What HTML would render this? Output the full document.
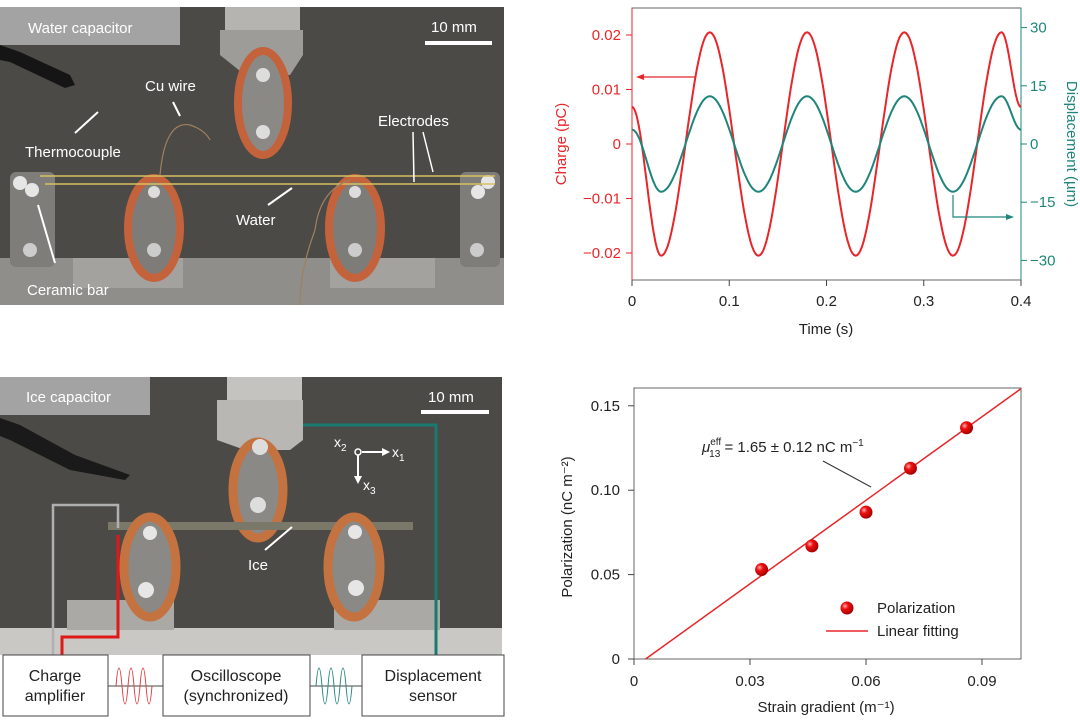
<!DOCTYPE html>
<html><head><meta charset="utf-8"><style>
body{margin:0;background:#fff;width:1080px;height:720px;overflow:hidden;font-family:"Liberation Sans",sans-serif}
svg text{font-family:"Liberation Sans",sans-serif}
</style></head><body>
<svg id="fig" width="1080" height="720" xmlns="http://www.w3.org/2000/svg">
<g>
<rect x="0" y="7" width="504" height="298" fill="#4b4a46"/>
<rect x="0" y="258" width="504" height="47" fill="#8f8e8a"/>
<rect x="73" y="258" width="110" height="30" fill="#a3a29e"/>
<rect x="330" y="258" width="105" height="30" fill="#a3a29e"/>
<path d="M0 45 L20 52 L70 75 L75 85 L65 88 L10 62 L0 60Z" fill="#151515"/>
<rect x="225" y="7" width="75" height="24" fill="#b5b4b0"/>
<path d="M220 30 L303 30 L303 55 L290 75 L245 75 L220 55Z" fill="#9d9c98"/>
<ellipse cx="263" cy="103" rx="25" ry="52" fill="#8a8985" stroke="#c4623c" stroke-width="8"/>
<circle cx="263" cy="75" r="7" fill="#ddd"/><circle cx="263" cy="132" r="7" fill="#ddd"/>
<ellipse cx="154" cy="228" rx="26" ry="50" fill="#7d7c78" stroke="#c4623c" stroke-width="8"/>
<circle cx="154" cy="192" r="6" fill="#ddd"/><circle cx="154" cy="250" r="7" fill="#ccc"/>
<ellipse cx="355" cy="228" rx="26" ry="50" fill="#7d7c78" stroke="#c4623c" stroke-width="8"/>
<circle cx="355" cy="192" r="6" fill="#ddd"/><circle cx="355" cy="250" r="7" fill="#ccc"/>
<rect x="10" y="172" width="45" height="95" rx="6" fill="#7e7d79"/>
<circle cx="20" cy="183" r="7" fill="#e6e6e6"/><circle cx="32" cy="190" r="7" fill="#e6e6e6"/><circle cx="30" cy="250" r="7" fill="#ccc"/>
<rect x="460" y="172" width="40" height="95" rx="6" fill="#7e7d79"/>
<circle cx="488" cy="182" r="7" fill="#e6e6e6"/><circle cx="478" cy="192" r="7" fill="#e6e6e6"/><circle cx="477" cy="250" r="7" fill="#ccc"/>
<line x1="40" y1="176" x2="495" y2="176" stroke="#d8c060" stroke-width="1.5"/>
<line x1="45" y1="184" x2="495" y2="184" stroke="#d8c060" stroke-width="1.5"/>
<path d="M160 175 Q165 120 190 125 Q205 130 210 140" stroke="#a08060" fill="none" stroke-width="1.2"/>
<path d="M350 180 Q320 190 315 230 Q300 270 300 305" stroke="#a08060" fill="none" stroke-width="1.2"/>
<rect x="0" y="7" width="180" height="38" fill="#a3a3a3"/>
<text x="28" y="33" fill="#fff" font-size="15">Water capacitor</text>
<text x="431" y="32" fill="#fff" font-size="15">10 mm</text>
<rect x="425" y="41" width="67" height="4" fill="#fff"/>
<g fill="#fff" font-size="15" stroke="#fff">
<text x="145" y="91" stroke="none">Cu wire</text>
<text x="25" y="157" stroke="none">Thermocouple</text>
<text x="378" y="126" stroke="none">Electrodes</text>
<text x="236" y="225" stroke="none">Water</text>
<text x="27" y="295" stroke="none">Ceramic bar</text>
<line x1="75" y1="133" x2="98" y2="112" stroke-width="2"/>
<line x1="173" y1="102" x2="180" y2="116" stroke-width="2"/>
<line x1="413" y1="132" x2="414" y2="182" stroke-width="1.5"/>
<line x1="423" y1="132" x2="433" y2="172" stroke-width="1.5"/>
<line x1="268" y1="205" x2="292" y2="188" stroke-width="2"/>
<line x1="55" y1="263" x2="38" y2="205" stroke-width="2"/>
</g></g>
<g>
<rect x="0" y="377" width="502" height="278" fill="#4b4a46"/>
<rect x="0" y="628" width="502" height="27" fill="#c9c8c4"/>
<rect x="67" y="600" width="107" height="30" fill="#aaa9a5"/>
<rect x="334" y="600" width="106" height="30" fill="#aaa9a5"/>
<path d="M0 418 L20 425 L75 455 L130 475 L125 480 L70 470 L10 440 L0 436Z" fill="#1a1a1a"/>
<rect x="227" y="377" width="75" height="24" fill="#c4c3bf"/>
<path d="M217 400 L303 400 L303 440 L290 450 L245 450 L217 440Z" fill="#b8b7b3"/>
<ellipse cx="258" cy="490" rx="25" ry="48" fill="#8a8985" stroke="#c4723f" stroke-width="9"/>
<circle cx="260" cy="447" r="8" fill="#ddd"/><circle cx="258" cy="505" r="8" fill="#ddd"/>
<rect x="108" y="522" width="305" height="8" fill="#7a7868"/>
<ellipse cx="150" cy="567" rx="26" ry="50" fill="#8a8985" stroke="#c4723f" stroke-width="9"/>
<circle cx="150" cy="533" r="7" fill="#e6e6e6"/><circle cx="146" cy="590" r="8" fill="#e6e6e6"/>
<ellipse cx="354" cy="567" rx="26" ry="50" fill="#8a8985" stroke="#c4723f" stroke-width="9"/>
<circle cx="355" cy="532" r="7" fill="#e6e6e6"/><circle cx="356" cy="588" r="8" fill="#e6e6e6"/>
<rect x="0" y="377" width="150" height="38" fill="#a3a3a3"/>
<text x="26" y="402" fill="#fff" font-size="15">Ice capacitor</text>
<text x="428" y="402" fill="#fff" font-size="15">10 mm</text>
<rect x="421" y="410" width="68" height="4" fill="#fff"/>
<text x="248" y="570" fill="#fff" font-size="15">Ice</text>
<line x1="265" y1="550" x2="292" y2="527" stroke="#fff" stroke-width="2"/>
<g fill="#fff" stroke="#fff" font-size="14">
<text x="334" y="447" stroke="none">x<tspan font-size="10" dy="4">2</tspan></text>
<circle cx="358" cy="452" r="3" fill="none" stroke-width="1.5"/>
<line x1="362" y1="452" x2="385" y2="452" stroke-width="2"/><path d="M390 452 L382 448 L382 456Z" stroke="none"/>
<text x="392" y="457" stroke="none">x<tspan font-size="10" dy="4">1</tspan></text>
<line x1="358" y1="455" x2="358" y2="478" stroke-width="2"/><path d="M358 484 L354 476 L362 476Z" stroke="none"/>
<text x="363" y="490" stroke="none">x<tspan font-size="10" dy="4">3</tspan></text>
</g>
<path d="M53 655 L53 505 L118 505 L118 528" stroke="#b0b0b0" stroke-width="2.5" fill="none"/>
<path d="M62 655 L62 637 L118 637 L118 535" stroke="#e01818" stroke-width="3" fill="none"/>
<path d="M303 425 L436 425 L436 655" stroke="#1a7a72" stroke-width="3" fill="none"/>
</g>
<g font-size="16" fill="#222" text-anchor="middle">
<line x1="108" y1="686" x2="163" y2="686" stroke="#444"/>
<line x1="310" y1="686" x2="362" y2="686" stroke="#444"/>
<path d="M116 686 Q119 650 122 686 T128 686 T134 686 T140 686 T146 686 T152 686" stroke="#e04040" fill="none" stroke-width="1"/>
<path d="M316 686 Q319 650 322 686 T328 686 T334 686 T340 686 T346 686 T352 686" stroke="#2a8a80" fill="none" stroke-width="1"/>
<rect x="3" y="655" width="105" height="61" fill="#fff" stroke="#444"/>
<text x="55" y="681">Charge</text><text x="55" y="701">amplifier</text>
<rect x="163" y="655" width="147" height="61" fill="#fff" stroke="#444"/>
<text x="236" y="681">Oscilloscope</text><text x="236" y="701">(synchronized)</text>
<rect x="362" y="655" width="142" height="61" fill="#fff" stroke="#444"/>
<text x="433" y="681">Displacement</text><text x="433" y="701">sensor</text>
</g>
<g id="chart1"></g>
<g id="chart2"></g>
</svg>
<script>
const NS="http://www.w3.org/2000/svg";
const timeKnots=[0,0.03,0.08,0.13,0.18,0.23,0.28,0.33,0.38,0.4];
const chargeKnots=[0.0068,-0.0205,0.0205,-0.0205,0.0205,-0.0205,0.0205,-0.0205,0.0205,0.0068];
const dispKnots=[3.7,-12.3,12.3,-12.3,12.3,-12.3,12.3,-12.3,12.3,3.7];
const timeTicks=[0,0.1,0.2,0.3,0.4];
const chargeTicks=[-0.02,-0.01,0,0.01,0.02];
const chargeTickLabels=["\u22120.02","\u22120.01","0","0.01","0.02"];
const dispTicks=[-30,-15,0,15,30];
const dispTickLabels=["\u221230","\u221215","0","15","30"];
const strain=[0.033,0.046,0.060,0.0715,0.086];
const polar=[0.053,0.067,0.087,0.113,0.137];
const fitX=[0.003,0.1];
const fitY=[0,0.16];
const strainTicks=[0,0.03,0.06,0.09];
const strainTickLabels=["0","0.03","0.06","0.09"];
const polarTicks=[0,0.05,0.10,0.15];
const polarTickLabels=["0","0.05","0.10","0.15"];

function mk(p,tag,at,txt){const e=document.createElementNS(NS,tag);for(const k in at)e.setAttribute(k,at[k]);if(txt!==undefined)e.textContent=txt;p.appendChild(e);return e;}
const RED="#e8262a",TEAL="#1f857b",GR="#444";
const c1=document.getElementById('chart1');
const X1=t=>632+t/0.4*389, YC=v=>144-v/0.01*54.5, YD=v=>144-v*3.88;
mk(c1,'rect',{x:632,y:8,width:389,height:272,fill:'none',stroke:'#666'});
mk(c1,'line',{x1:632,y1:8,x2:632,y2:280,stroke:RED,'stroke-width':1});
mk(c1,'line',{x1:1021,y1:8,x2:1021,y2:280,stroke:TEAL,'stroke-width':1});
timeTicks.forEach(t=>{mk(c1,'line',{x1:X1(t),y1:280,x2:X1(t),y2:286,stroke:GR});
const l=mk(c1,'text',{x:X1(t),y:306,'text-anchor':'middle','font-size':15,fill:'#222'},String(t));

});
chargeTicks.forEach((v,i)=>{mk(c1,'line',{x1:626,y1:YC(v),x2:632,y2:YC(v),stroke:RED});
const l=mk(c1,'text',{x:621,y:YC(v)+5,'text-anchor':'end','font-size':15,fill:RED},chargeTickLabels[i]);

});
dispTicks.forEach((v,i)=>{mk(c1,'line',{x1:1021,y1:YD(v),x2:1027,y2:YD(v),stroke:TEAL});
const l=mk(c1,'text',{x:1030,y:YD(v)+5,'font-size':15,fill:TEAL},dispTickLabels[i]);

});
let t1=mk(c1,'text',{x:826,y:334,'text-anchor':'middle','font-size':15,fill:'#222'},'Time (s)');


let t2=mk(c1,'text',{x:0,y:0,'text-anchor':'middle','font-size':15,fill:RED,transform:'translate(566,144) rotate(-90)'},'Charge (pC)');


let t3=mk(c1,'text',{x:0,y:0,'text-anchor':'middle','font-size':15,fill:TEAL,transform:'translate(1067,144) rotate(90)'},'Displacement (\u00b5m)');


function curve(vals,Y){let d='';for(let i=0;i<timeKnots.length-1;i++){const a=timeKnots[i],b=timeKnots[i+1],va=vals[i],vb=vals[i+1];
for(let k=0;k<=30;k++){const f=k/30,t=a+(b-a)*f,v=va+(vb-va)*(1-Math.cos(Math.PI*f))/2;d+=(d?'L':'M')+X1(t).toFixed(1)+' '+Y(v).toFixed(1);}}return d;}
let pc=mk(c1,'path',{d:curve(chargeKnots,YC),stroke:RED,'stroke-width':2,fill:'none'});


let pd=mk(c1,'path',{d:curve(dispKnots,YD),stroke:TEAL,'stroke-width':2,fill:'none'});


mk(c1,'line',{x1:696,y1:77,x2:642,y2:77,stroke:RED,'stroke-width':1.2});
mk(c1,'path',{d:'M636 77 L644 74 L644 80Z',fill:RED});
mk(c1,'path',{d:'M953 195 L953 217 L1008 217',stroke:TEAL,'stroke-width':1.2,fill:'none'});
mk(c1,'path',{d:'M1014 217 L1006 214 L1006 220Z',fill:TEAL});
const c2=document.getElementById('chart2');
const X2=v=>634+v/0.03*116, Y2=v=>659-v/0.05*84.4;
mk(c2,'rect',{x:634,y:388,width:387,height:271,fill:'none',stroke:'#666'});
strainTicks.forEach((v,i)=>{mk(c2,'line',{x1:X2(v),y1:659,x2:X2(v),y2:665,stroke:GR});
const l=mk(c2,'text',{x:X2(v),y:686,'text-anchor':'middle','font-size':15,fill:'#222'},strainTickLabels[i]);

});
polarTicks.forEach((v,i)=>{mk(c2,'line',{x1:628,y1:Y2(v),x2:634,y2:Y2(v),stroke:GR});
const l=mk(c2,'text',{x:620,y:Y2(v)+5,'text-anchor':'end','font-size':15,fill:'#222'},polarTickLabels[i]);

});
let t4=mk(c2,'text',{x:826,y:712,'text-anchor':'middle','font-size':15,fill:'#222'},'Strain gradient (m\u207b\u00b9)');


let t5=mk(c2,'text',{x:0,y:0,'text-anchor':'middle','font-size':15,fill:'#222',transform:'translate(572,527) rotate(-90)'},'Polarization (nC m\u207b\u00b2)');


let fl=mk(c2,'line',{x1:X2(fitX[0]),y1:Y2(fitY[0]),x2:X2(fitX[1]),y2:Y2(fitY[1]),stroke:RED,'stroke-width':1.5});


mk(c2,'defs',{}).innerHTML='<radialGradient id="ball" cx="0.35" cy="0.35" r="0.7"><stop offset="0" stop-color="#ffb0b0"/><stop offset="0.35" stop-color="#f01010"/><stop offset="1" stop-color="#a00000"/></radialGradient>';
strain.forEach((s,i)=>{const c=mk(c2,'circle',{cx:X2(s),cy:Y2(polar[i]),r:6.5,fill:'url(#ball)'});

});
mk(c2,'line',{x1:823,y1:461,x2:871,y2:487,stroke:'#333','stroke-width':1});
const ann=mk(c2,'text',{x:702,y:452,'font-size':15,fill:'#222'});
ann.innerHTML='<tspan font-style="italic">\u03bc</tspan><tspan font-size="10" dy="-7">eff</tspan><tspan font-size="10" dx="-12" dy="12">13</tspan><tspan dy="-5"> = 1.65 \u00b1 0.12 nC m</tspan><tspan font-size="10" dy="-6">\u22121</tspan>';


const lg=mk(c2,'g',{});


mk(lg,'circle',{cx:847,cy:608,r:6.5,fill:'url(#ball)'});
mk(lg,'text',{x:877,y:613,'font-size':15,fill:'#222'},'Polarization');
mk(lg,'line',{x1:826,y1:631,x2:868,y2:631,stroke:RED,'stroke-width':1.5});
mk(lg,'text',{x:877,y:636,'font-size':15,fill:'#222'},'Linear fitting');
</script>
</body></html>
